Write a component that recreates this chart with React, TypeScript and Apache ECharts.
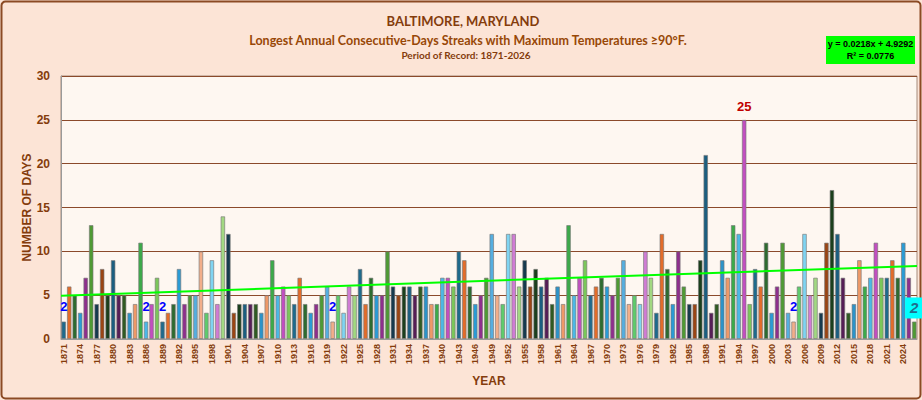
import React, { useEffect, useRef } from "react";
import * as echarts from "echarts";

const FIRST_YEAR = 1871;
const LAST_YEAR = 2026;
const years: string[] = [];
for (let y = FIRST_YEAR; y <= LAST_YEAR; y++) years.push(String(y));

// Longest consecutive-day streak of max temperature >= 90F, per year
const streakDays: number[] = [
  2, 6, 5, 3, 7, 13, 4, 8, 5, 9, // 1871-1880
  5, 5, 3, 4, 11, 2, 4, 7, 2, 3, // 1881-1890
  4, 8, 4, 5, 5, 10, 3, 9, 4, 14, // 1891-1900
  12, 3, 4, 4, 4, 4, 3, 5, 9, 5, // 1901-1910
  6, 5, 4, 7, 4, 3, 4, 5, 6, 2, // 1911-1920
  5, 3, 6, 5, 8, 4, 7, 5, 5, 10, // 1921-1930
  6, 5, 6, 6, 5, 6, 6, 4, 4, 7, // 1931-1940
  7, 6, 10, 9, 6, 4, 5, 7, 12, 5, // 1941-1950
  4, 12, 12, 6, 9, 6, 8, 6, 7, 4, // 1951-1960
  6, 4, 13, 5, 7, 9, 5, 6, 7, 6, // 1961-1970
  5, 7, 9, 4, 5, 4, 10, 7, 3, 12, // 1971-1980
  8, 4, 10, 6, 4, 4, 9, 21, 3, 4, // 1981-1990
  9, 7, 13, 12, 25, 4, 8, 6, 11, 3, // 1991-2000
  6, 11, 3, 2, 6, 12, 5, 7, 3, 11, // 2001-2010
  17, 12, 7, 3, 4, 9, 6, 7, 11, 7, // 2011-2020
  7, 9, 7, 11, 7, 2, // 2021-2026
];

const trendSlope = 0.0218;
const trendIntercept = 4.9292;
const rSquared = 0.0776;

const titleLines = [
  "BALTIMORE, MARYLAND",
  "Longest Annual Consecutive-Days Streaks with Maximum Temperatures \u226590\u00b0F.",
  "Period of Record: 1871-2026",
];

// Excel-like "vary colors by point" palette
const shades: Record<string, string[]> = {
  base: ["#1F6A8C", "#E36C2A", "#2E6B30", "#2A9BD5", "#8E2F8C", "#4F9A34"],
  dark: ["#163A4E", "#9A4514", "#1B3F1C", "#1B5E80", "#561E56", "#305A22"],
  light: ["#2C93C9", "#EE9968", "#3CAA4A", "#4CB8E6", "#C24FC0", "#7BC75A"],
  lighter: ["#55AEE0", "#F2AE8A", "#5FCB6C", "#7FD4F2", "#D07CD4", "#A2D882"],
};
const shadeCycle = ["base", "dark", "light", "base", "lighter", "dark", "light", "base", "lighter"];
const barColor = (i: number) => shades[shadeCycle[Math.floor(i / 6) % shadeCycle.length]][i % 6];

const BROWN = "#843C0C";
const AXIS_FONT = "'Liberation Sans', Arial, sans-serif";
const TITLE_FONT = "Lato, 'Open Sans', sans-serif";

export default function App() {
  const ref = useRef<HTMLDivElement>(null);
  useEffect(() => {
    if (!ref.current) return;
    const chart = echarts.init(ref.current, null, { renderer: "svg" });
    const maxV = Math.max(...streakDays);
    const minV = Math.min(...streakDays);
    const lastIdx = streakDays.length - 1;
    const data = streakDays.map((v, i) => {
      const item: any = { value: v, itemStyle: { color: barColor(i) } };
      if (i === lastIdx) {
        item.label = {
          show: true, position: "top", distance: 3, formatter: "{c}",
          backgroundColor: "#00FFFF", color: "#1F6F8F", fontStyle: "italic",
          fontWeight: "bold", fontSize: 15, padding: [3, 5], fontFamily: AXIS_FONT,
        };
      } else if (v === maxV) {
        item.label = { show: true, position: "top", distance: 7, formatter: "{c}", color: "#C00000", fontWeight: "bold", fontSize: 13, fontFamily: AXIS_FONT };
      } else if (v === minV) {
        item.label = { show: true, position: "top", distance: 8, formatter: "{c}", color: "#0000FF", fontWeight: "bold", fontSize: 13, fontFamily: AXIS_FONT };
      }
      return item;
    });
    const n = streakDays.length;
    const xs = [0.5, n + 0.5];
    const trend = xs.map((x) => [x, trendIntercept + trendSlope * x]);

    chart.setOption({
      animation: false,
      backgroundColor: "#FCE4D6",
      textStyle: { fontFamily: AXIS_FONT },
      graphic: [
        { type: "rect", shape: { x: 1.5, y: 1.5, width: 919, height: 397, r: 4 }, style: { fill: "none", stroke: "#8B4A24", lineWidth: 2 }, silent: true },
        { type: "text", x: 463, y: 21, style: { text: titleLines[0], textAlign: "center", textVerticalAlign: "middle", font: `bold 13px ${TITLE_FONT}`, fill: BROWN } },
        { type: "text", x: 468, y: 40, style: { text: titleLines[1], textAlign: "center", textVerticalAlign: "middle", font: `bold 12.5px ${TITLE_FONT}`, fill: "#984807" } },
        { type: "text", x: 466, y: 55, style: { text: titleLines[2], textAlign: "center", textVerticalAlign: "middle", font: `bold 10px ${TITLE_FONT}`, fill: BROWN } },
        { type: "rect", shape: { x: 826, y: 36, width: 89, height: 28 }, style: { fill: "#00FF00" } },
        { type: "text", x: 870.5, y: 44, style: { text: `y = ${trendSlope}x + ${trendIntercept}`, textAlign: "center", textVerticalAlign: "middle", font: `bold 9px ${AXIS_FONT}`, fill: "#000" } },
        { type: "text", x: 870.5, y: 56, style: { text: `R\u00b2 = ${rSquared}`, textAlign: "center", textVerticalAlign: "middle", font: `bold 9px ${AXIS_FONT}`, fill: "#000" } },
      ],
      grid: {
        left: 61, right: 5, top: 76, bottom: 61, show: true,
        backgroundColor: "#FEF7F1", borderColor: "#A58A7A", borderWidth: 1,
      },
      xAxis: [
        {
          type: "category", data: years,
          axisTick: { show: false },
          axisLine: { lineStyle: { color: "#9A9A9A", width: 1 } },
          axisLabel: { interval: 2, rotate: 90, fontSize: 9, fontWeight: "bold", color: BROWN, margin: 5 },
          name: "YEAR", nameLocation: "middle", nameGap: 36, nameMoveOverlap: false,
          nameTextStyle: { fontSize: 12, fontWeight: "bold", color: BROWN },
        },
        { type: "value", min: 0.5, max: n + 0.5, show: false },
      ],
      yAxis: {
        type: "value", min: 0, max: 30, interval: 5,
        axisLine: { show: true, lineStyle: { color: "#9A9A9A" } },
        axisTick: { show: false },
        splitLine: { lineStyle: { color: "#8B4A2B", width: 1 } },
        axisLabel: { fontSize: 12, fontWeight: "bold", color: BROWN, margin: 11 },
        name: "NUMBER OF DAYS", nameLocation: "middle", nameGap: 34, nameMoveOverlap: false,
        nameTextStyle: { fontSize: 12, fontWeight: "bold", color: BROWN, verticalAlign: "middle" },
      },
      series: [
        {
          type: "bar", data, barCategoryGap: "15%",
          itemStyle: { borderColor: "rgba(120,120,120,0.65)", borderWidth: 1 },
        },
        {
          type: "line", xAxisIndex: 1, data: trend, symbol: "none",
          lineStyle: { color: "#00FF00", width: 2 }, z: 5,
        },
      ],
    });
    return () => chart.dispose();
  }, []);
  return <div ref={ref} style={{ position: "fixed", left: 0, top: 0, width: 922, height: 400 }} />;
}
